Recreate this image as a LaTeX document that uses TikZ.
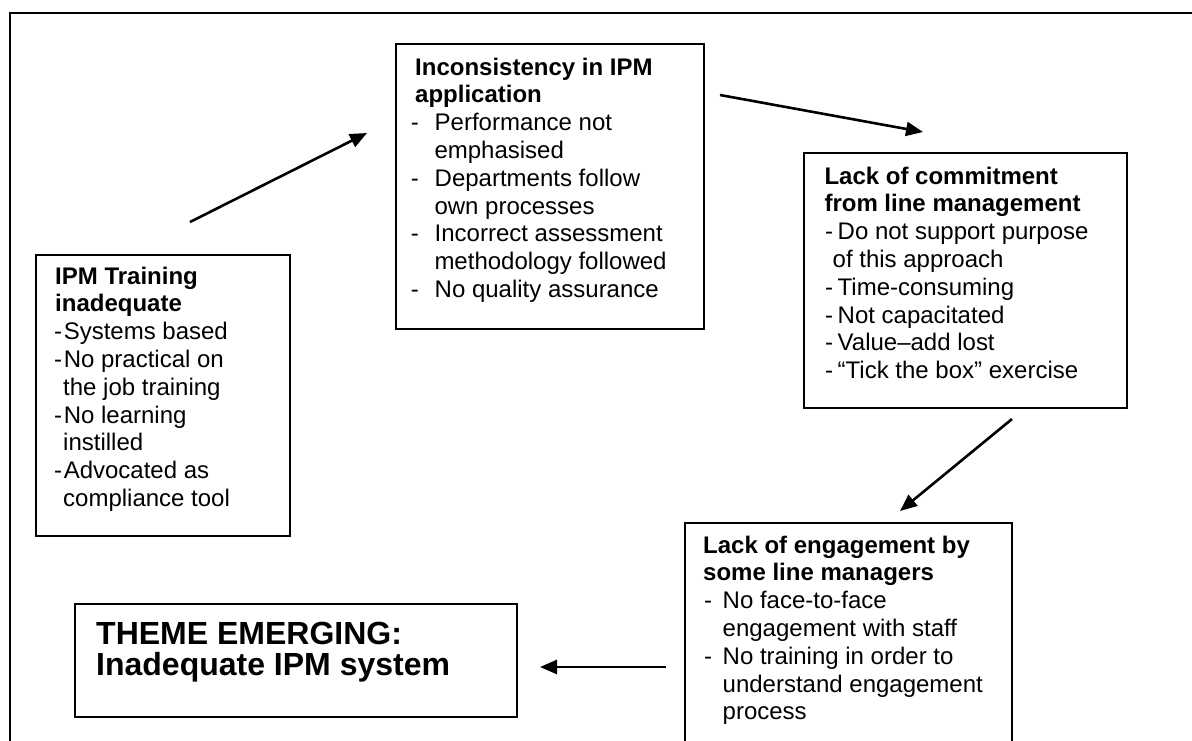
\documentclass[tikz,border=0pt]{standalone}
\usepackage{fontspec}
\setmainfont{Liberation Sans}
\usetikzlibrary{arrows.meta}

% indents for the dash lists inside the boxes
\newlength\dashind
\newlength\contind
\newcommand\dashline[1]{\makebox[\dashind][l]{-}#1}
\newcommand\contline[1]{\hspace*{\contind}#1}

\tikzset{
  box/.style={draw=black, line width=1.6pt, rectangle, anchor=north west, inner sep=0pt},
  txt/.style={anchor=base west, inner sep=0pt, font=\fontsize{24}{27.8}\selectfont},
  themetxt/.style={anchor=base west, inner sep=0pt, font=\fontsize{32}{31}\selectfont\bfseries},
  flow/.style={line width=2.6pt, -{Triangle[length=17pt,width=14pt]}},
  frameline/.style={line width=2.6pt}
}

\begin{document}
\begin{tikzpicture}[x=1pt, y=-1pt]
\useasboundingbox (0,0) rectangle (1192,740);
\begin{scope}
\clip (0,0) rectangle (1192,740);

% outer frame (open to the right and bottom)
\coordinate (fbl) at (10,760);
\coordinate (ftl) at (10,13);
\coordinate (ftr) at (1210,13);
\draw[frameline] (fbl) -- (ftl) -- (ftr);

% boxes
\node[box, minimum width=254pt, minimum height=281pt] (training) at (35,254) {};
\node[box, minimum width=308pt, minimum height=285pt] (incons) at (395,43) {};
\node[box, minimum width=323pt, minimum height=255pt] (commit) at (803,152) {};
\node[box, minimum width=327pt, minimum height=250pt] (engage) at (684,522) {};
\node[box, minimum width=442pt, minimum height=113pt] (theme) at (74,603) {};

% box texts
\node[txt] (trainingT) at (54,284) {\parbox[t]{230pt}{\raggedright
  \setlength\dashind{9.6pt}\setlength\contind{9pt}%
  \hspace*{1pt}\textbf{IPM Training}\\
  \hspace*{1pt}\textbf{inadequate}\\
  \dashline{Systems based}\\
  \dashline{No practical on}\\
  \contline{the job training}\\
  \dashline{No learning}\\
  \contline{instilled}\\
  \dashline{Advocated as}\\
  \contline{compliance tool}}};

\node[txt] (inconsT) at (410.7,75) {\parbox[t]{290pt}{\raggedright
  \setlength\dashind{23.8pt}\setlength\contind{23.6pt}%
  \hspace*{4.3pt}\textbf{Inconsistency in IPM}\\
  \hspace*{4.3pt}\textbf{application}\\
  \dashline{Performance not}\\
  \contline{emphasised}\\
  \dashline{Departments follow}\\
  \contline{own processes}\\
  \dashline{Incorrect assessment}\\
  \contline{methodology followed}\\
  \dashline{No quality assurance}}};

\node[txt] (commitT) at (825,184) {\parbox[t]{300pt}{\raggedright
  \setlength\dashind{12.5pt}\setlength\contind{7.5pt}%
  \hspace*{-0.7pt}\textbf{Lack of commitment}\\
  \hspace*{-0.7pt}\textbf{from line management}\\
  \dashline{Do not support purpose}\\
  \contline{of this approach}\\
  \dashline{Time-consuming}\\
  \dashline{Not capacitated}\\
  \dashline{Value–add lost}\\
  \dashline{“Tick the box” exercise}}};

\node[txt] (engageT) at (704,553) {\parbox[t]{305pt}{\raggedright
  \setlength\dashind{18.5pt}\setlength\contind{18.5pt}%
  \hspace*{-1pt}\textbf{Lack of engagement by}\\
  \hspace*{-1pt}\textbf{some line managers}\\
  \dashline{No face-to-face}\\
  \contline{engagement with staff}\\
  \dashline{No training in order to}\\
  \contline{understand engagement}\\
  \contline{process}}};

\node[themetxt] (themeT) at (96,644) {\parbox[t]{420pt}{\raggedright
  THEME EMERGING:\\
  Inadequate IPM system}};

% arrows between the boxes
\coordinate (a1s) at (190,222);
\coordinate (a1e) at (367,133);
\coordinate (a2s) at (720,95);
\coordinate (a2e) at (923,132);
\coordinate (a3s) at (1012,419);
\coordinate (a3e) at (900,511);
\coordinate (a4s) at (666,667);
\coordinate (a4e) at (540,667);
\draw[flow] (a1s) -- (a1e);
\draw[flow] (a2s) -- (a2e);
\draw[flow] (a3s) -- (a3e);
\draw[flow] (a4s) -- (a4e);
\end{scope}
\end{tikzpicture}
\end{document}
